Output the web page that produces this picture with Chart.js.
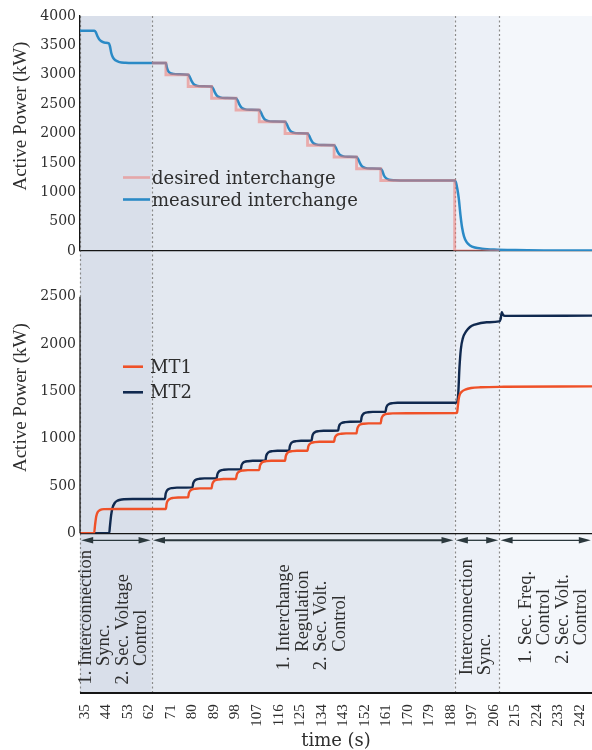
<!DOCTYPE html>
<html>
<head>
<meta charset="utf-8">
<script src="https://cdn.jsdelivr.net/npm/chart.js@4"></script>
<style>
  html, body { margin: 0; padding: 0; background: #fff; }
  canvas { display: block; }
</style>
</head>
<body>
<canvas id="chart" width="592" height="750"></canvas>
<script>
// tick labels
const xTicks = [35, 44, 53, 62, 71, 80, 89, 98, 107, 116, 125, 134, 143, 152, 161, 170, 179, 188, 197, 206, 215, 224, 233, 242]
const yTopTicks = [0, 500, 1000, 1500, 2000, 2500, 3000, 3500, 4000]
const yBottomTicks = [0, 500, 1000, 1500, 2000, 2500]

// phases of the experiment (s) and their notes
const phaseBounds = [33, 63, 189.6, 208.3, 247]
const phaseLabels = [
  ['1. Interconnection', 'Sync.', '2. Sec. Voltage', 'Control'],
  ['1. Interchange', 'Regulation', '2. Sec. Volt.', 'Control'],
  ['Interconnection', 'Sync.'],
  ['1. Sec. Freq.', 'Control', '2. Sec. Volt.', 'Control'],
]

// top panel: interchange (kW)
const desiredTime = [63, 68.9, 68.9, 78.2, 78.2, 88.0, 88.0, 98.2, 98.2, 107.9, 107.9, 118.7, 118.7,
  128.1, 128.1, 139.2, 139.2, 148.6, 148.6, 158.7, 158.7, 189.6, 189.6, 208.3]
const desiredPower = [3200, 3200, 3000, 3000, 2800, 2800, 2600, 2600, 2400, 2400, 2200, 2200, 2000,
  2000, 1800, 1800, 1600, 1600, 1400, 1400, 1200, 1200, 0, 0]

const measuredTime = [33, 39, 39.6, 40.3, 41, 42, 43.5, 45.1, 45.6, 46.1, 46.8, 47.8, 49.5, 52, 56, 63, 68.9,
  69.3, 69.8, 70.6, 72, 74, 78.2,
  78.8, 79.5, 80.4, 81.7, 84, 88.0,
  88.6, 89.3, 90.2, 91.5, 93.8, 98.2,
  98.8, 99.5, 100.4, 101.7, 104, 107.9,
  108.5, 109.2, 110.1, 111.4, 113.7, 118.7,
  119.3, 120.0, 120.9, 122.2, 124.5, 128.1,
  128.7, 129.4, 130.3, 131.6, 133.9, 139.2,
  139.8, 140.5, 141.4, 142.7, 145, 148.6,
  149.2, 149.9, 150.8, 152.1, 154.4, 158.7,
  159.3, 160.0, 160.9, 162.2, 164.5, 170, 189.6,
  190.1, 190.7, 191.3, 192.0, 192.7, 193.5, 194.6, 196, 198, 201, 206, 215, 230, 247]
const measuredPower = [3750, 3750, 3725, 3655, 3605, 3568, 3545, 3535, 3470, 3365, 3290, 3245, 3215, 3204, 3200, 3199, 3199,
  3125, 3065, 3032, 3015, 3007, 3002,
  2968, 2905, 2845, 2815, 2803, 2800,
  2768, 2705, 2645, 2615, 2603, 2600,
  2568, 2505, 2445, 2415, 2403, 2400,
  2368, 2305, 2245, 2215, 2203, 2200,
  2168, 2105, 2045, 2015, 2003, 2000,
  1968, 1905, 1845, 1815, 1803, 1800,
  1768, 1705, 1645, 1615, 1603, 1600,
  1568, 1505, 1445, 1415, 1403, 1400,
  1368, 1290, 1240, 1213, 1204, 1200, 1198,
  1170, 1060, 900, 620, 400, 250, 150, 95, 60, 40, 25, 15, 10, 8]

// bottom panel: micro-turbine outputs (kW)
const mt1Time = [33, 38.9, 39.3, 39.8, 40.5, 41.5, 43, 50, 68.9,
  69.2, 69.7, 70.5, 72, 74, 78.2,
  78.5, 79.0, 79.8, 81.2, 83.2, 88.0,
  88.3, 88.8, 89.6, 91.0, 93.0, 98.2,
  98.5, 99.0, 99.8, 101.2, 103.2, 107.9,
  108.2, 108.7, 109.5, 110.9, 112.9, 118.7,
  119.0, 119.5, 120.3, 121.7, 123.7, 128.1,
  128.4, 128.9, 129.7, 131.1, 133.1, 139.2,
  139.5, 140.0, 140.8, 142.2, 144.2, 148.6,
  148.9, 149.4, 150.2, 151.6, 153.6, 158.7,
  159.0, 159.5, 160.3, 161.7, 163.7, 189.6,
  190.6, 190.9, 191.3, 191.8, 192.6, 194, 196.5, 200.5, 210, 247]
const mt1Power = [0, 0, 90, 180, 228, 248, 255, 257, 257,
  312, 345, 363, 374, 379, 380,
  422, 448, 463, 471, 475, 476,
  519, 545, 561, 569, 573, 574,
  615, 641, 656, 664, 668, 669,
  712, 738, 754, 762, 766, 767,
  814, 843, 860, 868, 872, 873,
  915, 940, 955, 963, 967, 968,
  1007, 1030, 1045, 1052, 1056, 1057,
  1104, 1133, 1150, 1158, 1162, 1163,
  1210, 1238, 1255, 1263, 1267, 1270,
  1275, 1340, 1420, 1470, 1497, 1518, 1535, 1543, 1548, 1552]

const mt2Time = [33, 45.2, 45.5, 46, 46.6, 47.5, 48.7, 50.5, 55, 68.5,
  68.8, 69.3, 70.1, 71.5, 73.5, 80.0,
  80.3, 80.8, 81.6, 83.0, 85.0, 90.1,
  90.4, 90.9, 91.7, 93.1, 95.1, 100.2,
  100.5, 101.0, 101.8, 103.2, 105.2, 110.5,
  110.8, 111.3, 112.1, 113.5, 115.5, 120.4,
  120.7, 121.2, 122.0, 123.4, 125.4, 129.8,
  130.1, 130.6, 131.4, 132.8, 134.8, 140.9,
  141.2, 141.7, 142.5, 143.9, 145.9, 150.4,
  150.7, 151.2, 152.0, 153.4, 155.4, 160.7,
  161.0, 161.5, 162.3, 163.7, 165.7, 189.6,
  190.6, 191.1, 191.6, 192.2, 193, 194.3, 196, 198, 203, 208.2, 208.8, 209.3, 209.8, 210.6, 247]
const mt2Power = [0, 0, 70, 190, 270, 320, 345, 357, 362, 363,
  418, 450, 468, 478, 483, 485,
  527, 553, 568, 576, 580, 581,
  622, 648, 663, 671, 675, 676,
  716, 741, 755, 762, 766, 767,
  814, 843, 860, 868, 872, 873,
  920, 950, 966, 974, 978, 980,
  1026, 1055, 1071, 1079, 1083, 1085,
  1126, 1153, 1167, 1175, 1179, 1180,
  1226, 1255, 1271, 1279, 1283, 1285,
  1326, 1353, 1367, 1375, 1379, 1380,
  1383, 1480, 1750, 1950, 2060, 2130, 2180, 2205, 2230, 2240, 2262, 2335, 2310, 2297, 2300]

const zip = (xs, ys) => xs.map((x, i) => ({ x, y: ys[i] }))

const phaseColors = ['#d9dfea', '#e3e8f0', '#ecf0f7', '#f4f7fb']
const phaseTextShift = [-2, 9, -1, 8]
const textColor = '#2e2e2e'
const axisColor = '#151515'
const clear = 'rgba(0,0,0,0)'

const fixedTicks = list => scale => { scale.ticks = list.map(v => ({ value: v })) }
const zeroLine = ctx => (ctx.tick && ctx.tick.value === 0 ? axisColor : clear)

function rotText(ctx, text, x, y) {
  ctx.save()
  ctx.translate(x, y)
  ctx.rotate(-Math.PI / 2)
  ctx.fillText(text, 0, 0)
  ctx.restore()
}

const phasePlugin = {
  id: 'phases',
  beforeDraw(chart) {
    const { ctx, chartArea: a, scales: { x } } = chart
    ctx.save()
    ctx.fillStyle = '#fff'
    ctx.fillRect(0, 0, chart.width, chart.height)
    for (let i = 0; i < phaseBounds.length - 1; i++) {
      const x0 = x.getPixelForValue(phaseBounds[i])
      const x1 = x.getPixelForValue(phaseBounds[i + 1])
      ctx.fillStyle = phaseColors[i]
      ctx.fillRect(x0, a.top, x1 - x0, a.bottom - a.top)
    }
    ctx.strokeStyle = '#8a8a8a'
    ctx.lineWidth = 1.2
    ctx.setLineDash([2, 2.5])
    for (let i = 0; i < phaseBounds.length - 1; i++) {
      const px = Math.round(x.getPixelForValue(phaseBounds[i])) + 0.5
      ctx.beginPath()
      ctx.moveTo(px, a.top)
      ctx.lineTo(px, a.bottom)
      ctx.stroke()
    }
    ctx.restore()
  },
  afterDraw(chart) {
    const { ctx, chartArea: a, scales: { x, y, y2, ya } } = chart
    const ds = chart.data.datasets
    ctx.save()
    ctx.setLineDash([])

    // left axis line of the lower panel
    ctx.strokeStyle = axisColor
    ctx.lineWidth = 1.3
    ctx.beginPath()
    ctx.moveTo(a.left, y2.getPixelForValue(yBottomTicks[yBottomTicks.length - 1]))
    ctx.lineTo(a.left, y2.getPixelForValue(0))
    ctx.stroke()

    // bottom frame line under the phase notes
    ctx.fillStyle = axisColor
    ctx.fillRect(a.left, Math.round(a.bottom) - 1, chart.width - a.left, 2)

    // phase arrows
    const ay = ya.top + 7
    ctx.strokeStyle = '#2b383d'
    ctx.fillStyle = '#2b383d'
    for (let i = 0; i < phaseBounds.length - 1; i++) {
      const x0 = x.getPixelForValue(phaseBounds[i]) + 1.2
      const x1 = x.getPixelForValue(phaseBounds[i + 1]) - 1.2
      ctx.lineWidth = i === 1 ? 2 : 1.3
      ctx.beginPath()
      ctx.moveTo(x0 + 8, ay)
      ctx.lineTo(x1 - 8, ay)
      ctx.stroke()
      ctx.beginPath()
      ctx.moveTo(x0, ay); ctx.lineTo(x0 + 12, ay - 3.3); ctx.lineTo(x0 + 12, ay + 3.3)
      ctx.closePath(); ctx.fill()
      ctx.beginPath()
      ctx.moveTo(x1, ay); ctx.lineTo(x1 - 12, ay - 3.3); ctx.lineTo(x1 - 12, ay + 3.3)
      ctx.closePath(); ctx.fill()
    }

    // phase notes, rotated
    ctx.font = '18.5px "Liberation Serif"'
    ctx.fillStyle = textColor
    ctx.textAlign = 'left'
    ctx.textBaseline = 'middle'
    const indentW = ctx.measureText('1. ').width
    const isItem = l => /^\d\./.test(l)
    const textMid = ya.top + 84
    phaseLabels.forEach((lines, i) => {
      const cx = (x.getPixelForValue(phaseBounds[i]) + x.getPixelForValue(phaseBounds[i + 1])) / 2 + phaseTextShift[i]
      const numbered = lines.some(isItem)
      const ind = lines.map(l => (numbered && !isItem(l) ? indentW : 0))
      const maxW = Math.max(...lines.map((l, k) => ctx.measureText(l).width + ind[k]))
      const yStart = textMid + maxW / 2
      lines.forEach((l, k) => {
        rotText(ctx, l, cx + (k - (lines.length - 1) / 2) * 18.5, yStart - ind[k])
      })
    })

    // legends
    const legend = (items, x0, len, tx, y0, gap, font) => {
      ctx.font = font
      ctx.textAlign = 'left'
      ctx.textBaseline = 'alphabetic'
      items.forEach((d, k) => {
        const ly = y0 + k * gap
        ctx.strokeStyle = d.borderColor
        ctx.lineWidth = 2.6
        ctx.beginPath()
        ctx.moveTo(x0, ly)
        ctx.lineTo(x0 + len, ly)
        ctx.stroke()
        ctx.fillStyle = textColor
        ctx.fillText(d.label, tx, ly + 6)
      })
    }
    legend([ds[0], ds[1]], 123, 27, 152, 177.5, 22, '18px "DejaVu Serif"')
    legend([ds[2], ds[3]], 123, 20, 150, 366.7, 25.6, '18px "DejaVu Serif"')

    // y titles
    ctx.font = '19px "Liberation Serif"'
    ctx.fillStyle = textColor
    ctx.textAlign = 'center'
    ctx.textBaseline = 'middle'
    rotText(ctx, 'Active Power (kW)', 21, (y.top + y.bottom) / 2 - 17.5)
    rotText(ctx, 'Active Power (kW)', 21, (y2.top + y2.bottom) / 2 + 5.5)

    ctx.restore()
  },
}

const yTickStyle = {
  autoSkip: false,
  padding: 4,
  color: textColor,
  font: { family: 'DejaVu Serif', size: 14 },
  callback: v => String(v),
}

new Chart(document.getElementById('chart'), {
  type: 'line',
  data: {
    datasets: [
      {
        label: 'desired interchange',
        data: zip(desiredTime, desiredPower),
        yAxisID: 'y',
        borderColor: 'rgba(238, 120, 115, 0.55)',
        borderWidth: 2.8,
        tension: 0,
      },
      {
        label: 'measured interchange',
        data: zip(measuredTime, measuredPower),
        yAxisID: 'y',
        borderColor: '#2b8ac6',
        borderWidth: 2.5,
        tension: 0.4,
        cubicInterpolationMode: 'monotone',
      },
      {
        label: 'MT1',
        data: zip(mt1Time, mt1Power),
        yAxisID: 'y2',
        borderColor: '#ef5128',
        borderWidth: 2.4,
        tension: 0.4,
        cubicInterpolationMode: 'monotone',
      },
      {
        label: 'MT2',
        data: zip(mt2Time, mt2Power),
        yAxisID: 'y2',
        borderColor: '#10294f',
        borderWidth: 2.4,
        tension: 0.4,
        cubicInterpolationMode: 'monotone',
      },
    ],
  },
  options: {
    responsive: false,
    animation: false,
    devicePixelRatio: 1,
    layout: { padding: { top: 16, left: 0, right: 0, bottom: 0 } },
    elements: { point: { radius: 0 } },
    plugins: { legend: { display: false }, tooltip: { enabled: false } },
    scales: {
      x: {
        type: 'linear',
        min: 33,
        max: 247,
        afterBuildTicks: fixedTicks(xTicks),
        afterFit: s => {
          s.height = 56.7
          s.paddingLeft = 0
          s.paddingRight = 0
        },
        grid: { display: true, color: clear, drawTicks: false },
        border: { display: false },
        ticks: {
          autoSkip: false,
          minRotation: 90,
          maxRotation: 90,
          padding: 11,
          color: textColor,
          font: { family: 'Liberation Serif', size: 15 },
          callback: v => String(v),
        },
        title: {
          display: true,
          text: 'time (s)',
          color: textColor,
          font: { family: 'DejaVu Serif', size: 18, lineHeight: 1 },
          padding: { top: 0, bottom: 0 },
        },
      },
      // stacked panels are laid out bottom-up in definition order
      ya: {
        stack: 'panels',
        stackWeight: 160,
        min: 0,
        max: 1,
        afterFit: s => { s.width = 80 },
        grid: { display: false, drawTicks: false },
        border: { display: false },
        ticks: { display: false },
      },
      y2: {
        stack: 'panels',
        stackWeight: 282.3,
        min: 0,
        max: 2983,
        afterBuildTicks: fixedTicks(yBottomTicks),
        afterFit: s => { s.width = 80 },
        grid: { drawTicks: false, color: zeroLine, lineWidth: 1.3 },
        border: { display: false },
        ticks: yTickStyle,
      },
      y: {
        stack: 'panels',
        stackWeight: 235,
        min: 0,
        max: 4000,
        afterBuildTicks: fixedTicks(yTopTicks),
        afterFit: s => { s.width = 80 },
        grid: { drawTicks: false, color: zeroLine, lineWidth: 1.3 },
        border: { display: true, color: axisColor, width: 1.3 },
        ticks: yTickStyle,
      },
    },
  },
  plugins: [phasePlugin],
})
</script>
</body>
</html>
